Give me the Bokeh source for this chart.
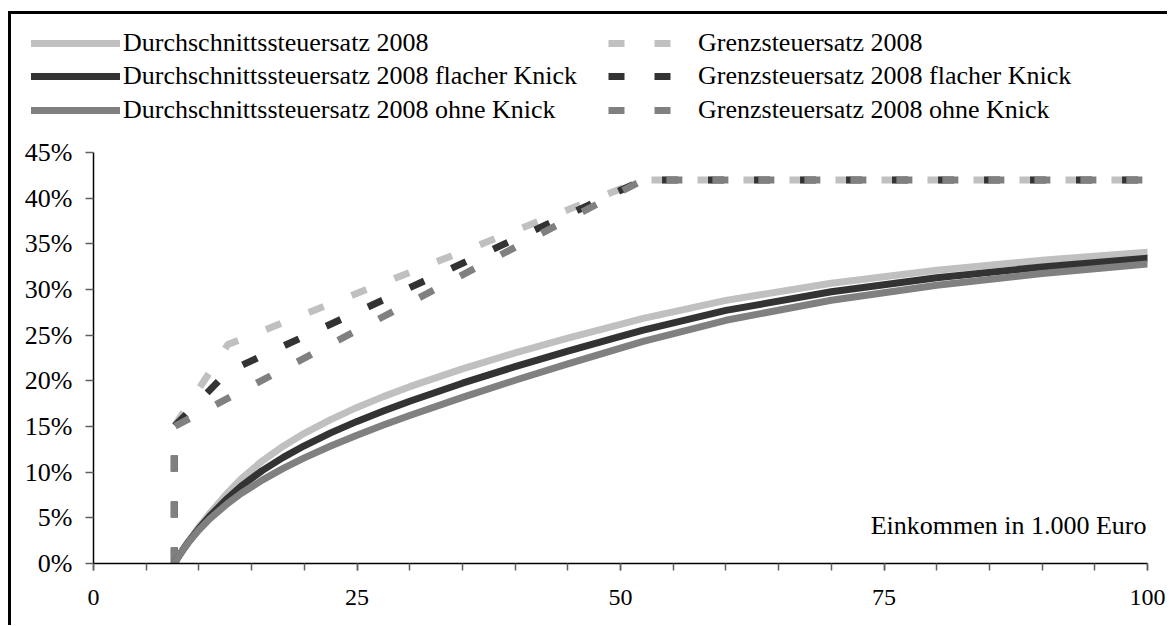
from bokeh.plotting import figure
from bokeh.layouts import column
from bokeh.models import FixedTicker, Legend, LegendItem, Label
from bokeh.embed import file_html
from bokeh.resources import INLINE

# ---- data (income in 1.000 Euro, rates in %) ----
income = [7.664, 8, 8.5, 9, 10, 11, 12.739, 14, 16, 18, 20, 22.5, 25, 27.5, 30,
          35, 40, 45, 50, 52.152, 60, 70, 80, 90, 100]
avg_2008 = [0, 0.64, 1.55, 2.40, 3.99, 5.44, 7.76, 9.25, 11.22, 12.85, 14.25, 15.76,
            17.09, 18.27, 19.36, 21.31, 23.06, 24.67, 26.19, 26.83, 28.81, 30.69,
            32.11, 33.21, 34.09]
avg_flach = [0, 0.64, 1.52, 2.34, 3.83, 5.15, 7.17, 8.45, 10.17, 11.62, 12.89, 14.30,
             15.56, 16.70, 17.77, 19.74, 21.55, 23.25, 24.87, 25.56, 27.71, 29.75,
             31.28, 32.47, 33.42]
avg_ohne = [0, 0.63, 1.50, 2.29, 3.67, 4.86, 6.59, 7.66, 9.13, 10.41, 11.56, 12.86,
            14.05, 15.16, 16.21, 18.19, 20.06, 21.85, 23.58, 24.31, 26.63, 28.82,
            30.47, 31.75, 32.78]

marg_income = [7.664, 7.664, 12.739, 52.152, 100]
marg_2008 = [0, 15, 23.97, 42, 42]
marg_flach = [0, 15, 21.0, 42, 42]
marg_income_ohne = [7.664, 7.664, 52.152, 100]
marg_ohne = [0, 15, 42, 42]

labels_avg = ["Durchschnittssteuersatz 2008",
              "Durchschnittssteuersatz 2008 flacher Knick",
              "Durchschnittssteuersatz 2008 ohne Knick"]
labels_marg = ["Grenzsteuersatz 2008",
               "Grenzsteuersatz 2008 flacher Knick",
               "Grenzsteuersatz 2008 ohne Knick"]

yticks = [0, 5, 10, 15, 20, 25, 30, 35, 40, 45]
ytick_labels = ["0%", "5%", "10%", "15%", "20%", "25%", "30%", "35%", "40%", "45%"]
xticks = [0, 25, 50, 75, 100]
xminor = [0, 5, 10, 15, 20, 25, 30, 35, 40, 45, 50, 55, 60, 65, 70, 75, 80, 85, 90, 95, 100]
x_axis_note = "Einkommen in 1.000 Euro"

# ---- style ----
FONT = "Liberation Serif"
FS = "26px"
C_LIGHT = "#c0c0c0"
C_DARK = "#333333"
C_MID = "#808080"
DASH = "16 30"
LW = 7

W = 1156          # content width
H_LEG = 115       # legend strip height
H_MAIN = 496      # main plot height
ORIGIN_X, ORIGIN_Y = 11, 14   # page position of content (after margin + border)

# ---------------- main plot ----------------
p = figure(width=W, height=H_MAIN, x_range=(0, 100), y_range=(0, 45),
           output_backend="svg", toolbar_location=None,
           min_border_left=82, min_border_right=W - 82 - 1054,
           min_border_top=152 - ORIGIN_Y - H_LEG,
           min_border_bottom=(ORIGIN_Y + H_LEG + H_MAIN) - 563,
           background_fill_color="white", border_fill_color="white",
           outline_line_color=None)
p.frame_align = False
p.grid.visible = False

for ax in (p.xaxis[0], p.yaxis[0]):
    ax.axis_line_color = "black"
    ax.axis_line_width = 1.5
    ax.major_tick_in = 0
    ax.major_tick_out = 7
    ax.minor_tick_in = 0
    ax.minor_tick_out = 7
    ax.major_tick_line_color = "#606060"
    ax.minor_tick_line_color = "#606060"
    ax.major_tick_line_width = 1.5
    ax.minor_tick_line_width = 1.5
    ax.major_label_text_font = FONT
    ax.major_label_text_font_size = FS
    ax.major_label_text_color = "black"

p.xaxis.ticker = FixedTicker(ticks=xticks, minor_ticks=xminor)
p.xaxis.major_label_text_font_size = "24px"
p.xaxis.major_label_standoff = 19
p.yaxis.ticker = FixedTicker(ticks=yticks, minor_ticks=[])
p.yaxis.major_tick_out = 8
p.yaxis.major_label_standoff = 13
p.yaxis.major_label_overrides = {t: l for t, l in zip(yticks, ytick_labels)}

# marginal rates (dashed)
p.line(marg_income, marg_2008, line_color=C_LIGHT, line_width=LW, line_dash=DASH, line_cap="butt")
p.line(marg_income, marg_flach, line_color=C_DARK, line_width=LW, line_dash=DASH, line_cap="butt")
p.line(marg_income_ohne, marg_ohne, line_color=C_MID, line_width=LW, line_dash=DASH, line_cap="butt")

# average rates (solid)
p.line(income, avg_2008, line_color=C_LIGHT, line_width=LW, line_cap="round", line_join="round")
p.line(income, avg_flach, line_color=C_DARK, line_width=LW, line_cap="round", line_join="round")
p.line(income, avg_ohne, line_color=C_MID, line_width=LW, line_cap="round", line_join="round")

p.add_layout(Label(x=100, y=4.2, x_offset=-1, text=x_axis_note, text_align="right",
                   text_baseline="middle", text_font=FONT, text_font_size=FS,
                   text_color="black"))

# ---------------- legend strip ----------------
lg = figure(width=W, height=H_LEG, x_range=(0, 1), y_range=(0, 1),
            output_backend="svg", toolbar_location=None,
            x_axis_type=None, y_axis_type=None, min_border=0,
            background_fill_color="white", border_fill_color="white",
            outline_line_color=None)
lg.frame_align = False
lg.grid.visible = False

# proxies for the legend (their data lie outside the strip's view)
la1 = lg.line(income, avg_2008, line_color=C_LIGHT, line_width=LW, line_cap="round")
la2 = lg.line(income, avg_flach, line_color=C_DARK, line_width=LW, line_cap="round")
la3 = lg.line(income, avg_ohne, line_color=C_MID, line_width=LW, line_cap="round")
lm1 = lg.line(marg_income, marg_2008, line_color=C_LIGHT, line_width=LW, line_dash=DASH, line_cap="butt")
lm2 = lg.line(marg_income, marg_flach, line_color=C_DARK, line_width=LW, line_dash=DASH, line_cap="butt")
lm3 = lg.line(marg_income_ohne, marg_ohne, line_color=C_MID, line_width=LW, line_dash=DASH, line_cap="butt")

rows = [45, 78, 112]
ITEM_H = 26


def add_leg(r, label, page_x, yc, standoff):
    leg = Legend(items=[LegendItem(label=label, renderers=[r])],
                 location=(page_x - ORIGIN_X, (ORIGIN_Y + H_LEG) - (yc + ITEM_H / 2)),
                 orientation="vertical", padding=0, margin=0, spacing=0,
                 glyph_width=89, glyph_height=ITEM_H, label_height=ITEM_H,
                 label_standoff=standoff, label_text_font=FONT,
                 label_text_font_size=FS, label_text_color="black",
                 label_text_baseline="middle",
                 border_line_alpha=0, background_fill_alpha=0)
    lg.add_layout(leg, "center")


for r, lab, yc in zip([la1, la2, la3], labels_avg, rows):
    add_leg(r, lab, 31, yc, 3)
for r, lab, yc in zip([lm1, lm2, lm3], labels_marg, rows):
    add_leg(r, lab, 608, yc, 1)

layout = column(lg, p, spacing=0,
                styles={"margin-left": "8px", "margin-top": "11px",
                        "border-top": "3px solid black",
                        "border-left": "3px solid black"})

open("out.html", "w").write(file_html(layout, INLINE))
